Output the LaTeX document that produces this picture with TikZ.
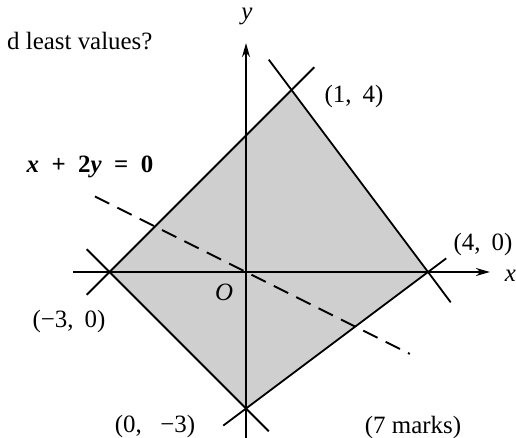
\documentclass[tikz,border=0pt]{standalone}
\usepackage{fontspec}
\setmainfont{Liberation Serif}
\usetikzlibrary{arrows.meta}
\tikzset{
  lbl/.style={font=\fontsize{25}{28}\selectfont, inner sep=0pt},
  bnd/.style={line width=1.8bp},
  axis/.style={line width=1.9bp, -{Stealth[length=14bp,width=8bp]}},
  dashline/.style={line width=1.8bp, dash pattern=on 16bp off 9bp},
  region/.style={fill=black!19}
}
\newcommand{\csp}{\hspace{0.45em}}
\begin{document}
\begin{tikzpicture}[x=1bp,y=-1bp]
\useasboundingbox (0,0) rectangle (516,438);
\begin{scope}[shift={(246,272)}, x=45.5bp, y=45.5bp]
  \coordinate (O) at (0,0);
  \coordinate (A) at (-3,0);
  \coordinate (B) at (1,4);
  \coordinate (C) at (4,0);
  \coordinate (D) at (0,-3);
  % extended line ends
  \coordinate (l1a) at (-3.5,0.5);
  \coordinate (l1b) at (0.5,-3.5);
  \coordinate (l2a) at (-3.5,-0.5);
  \coordinate (l2b) at (1.5,4.5);
  \coordinate (l3a) at (0.5,4.667);
  \coordinate (l3b) at (4.5,-0.667);
  \coordinate (l4a) at (-0.5,-3.375);
  \coordinate (l4b) at (4.4,0.3);
  \coordinate (xs) at (-3.8,0);
  \coordinate (xe) at (5.36,0);
  \coordinate (ys) at (0,-3.8);
  \coordinate (ye) at (0,5.03);
  \coordinate (da) at (-3.32,1.66);
  \coordinate (db) at (3.6,-1.8);
  \fill[region] (A) -- (B) -- (C) -- (D) -- cycle;
  \draw[bnd] (l1a) -- (l1b);
  \draw[bnd] (l2a) -- (l2b);
  \draw[bnd] (l3a) -- (l3b);
  \draw[bnd] (l4a) -- (l4b);
  \draw[axis] (xs) -- (xe);
  \draw[axis] (ys) -- (ye);
  \draw[dashline] (da) -- (db);
\end{scope}
\node[lbl, anchor=base west] (q) at (7,50) {d least values?};
\node[lbl] (ylab) at (247,16) {\textit{y}};
\node[lbl, anchor=east] (xlab) at (516,276) {\textit{x}};
\node[lbl] (lB) at (354,97) {(1,\csp4)};
\node[lbl] (lC) at (483,245) {(4,\csp0)};
\node[lbl] (lA) at (69,322) {(−3,\csp0)};
\node[lbl] (lD) at (155,427) {(0,\hspace{0.75em}−3)};
\node[lbl] (lO) at (224,292) {\textit{O}};
\node[lbl] (lm) at (413,428) {(7 marks)};
\node[lbl] (eq) at (90,167) {\textbf{\textit{x}\enspace+\enspace2\textit{y}\enspace=\enspace0}};
\end{tikzpicture}
\end{document}
